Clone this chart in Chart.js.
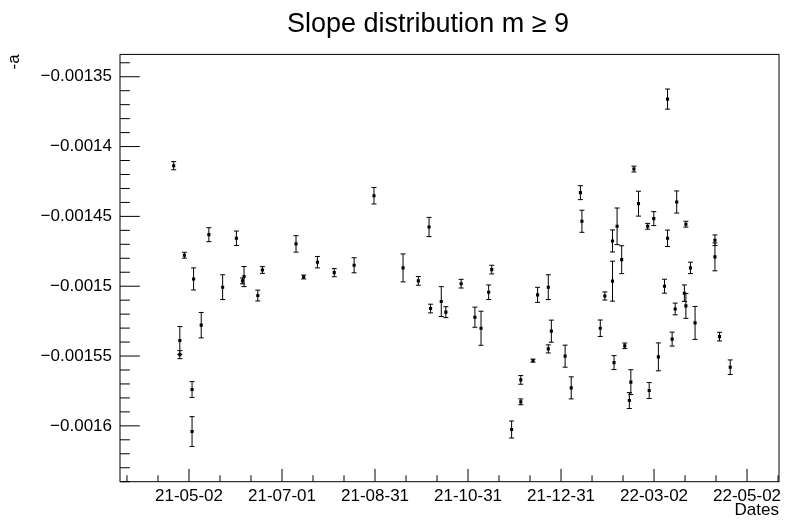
<!DOCTYPE html>
<html><head><meta charset="utf-8">
<script src="https://cdn.jsdelivr.net/npm/chart.js@4.4.1/dist/chart.umd.min.js"></script>
<style>html,body{margin:0;padding:0;background:#fff;}</style>
</head><body>
<canvas id="c" width="789" height="521"></canvas>
<script>
const dates = [
 "2021-04-22","2021-04-26","2021-04-26","2021-04-29","2021-05-04","2021-05-04","2021-05-05","2021-05-10","2021-05-15","2021-05-24",
 "2021-06-02","2021-06-06","2021-06-07","2021-06-16","2021-06-19","2021-07-11","2021-07-16","2021-07-25","2021-08-05","2021-08-18",
 "2021-08-31","2021-09-19","2021-09-29","2021-10-06","2021-10-07","2021-10-14","2021-10-17","2021-10-27","2021-11-05","2021-11-09",
 "2021-11-14","2021-11-16","2021-11-29","2021-12-05","2021-12-05","2021-12-13","2021-12-16","2021-12-23","2021-12-23","2021-12-25",
 "2022-01-03","2022-01-07","2022-01-13","2022-01-14","2022-01-26","2022-01-29","2022-02-03","2022-02-03","2022-02-04","2022-02-06",
 "2022-02-09","2022-02-11","2022-02-14","2022-02-15","2022-02-17","2022-02-20","2022-02-26","2022-02-27","2022-03-02","2022-03-05",
 "2022-03-09","2022-03-11","2022-03-11","2022-03-14","2022-03-16","2022-03-17","2022-03-22","2022-03-23","2022-03-23","2022-03-26",
 "2022-03-29","2022-04-11","2022-04-11","2022-04-14","2022-04-21"
];
const slopes = [
 -0.0014137,-0.0015389,-0.0015490,-0.0014778,-0.0015740,-0.0016041,-0.0014948,-0.0015279,-0.0014631,-0.0015007,
 -0.0014657,-0.0014962,-0.0014931,-0.0015067,-0.0014884,-0.0014697,-0.0014934,-0.0014828,-0.0014903,-0.0014850,
 -0.0014352,-0.0014869,-0.0014962,-0.0014576,-0.0015160,-0.0015110,-0.0015186,-0.0014982,-0.0015222,-0.0015301,
 -0.0015043,-0.0014881,-0.0016026,-0.0015671,-0.0015828,-0.0015533,-0.0015062,-0.0015007,-0.0015449,-0.0015322,
 -0.0015501,-0.0015728,-0.0014330,-0.0014535,-0.0015301,-0.0015070,-0.0014676,-0.0014964,-0.0015547,-0.0014571,
 -0.0014810,-0.0015427,-0.0015819,-0.0015687,-0.0014161,-0.0014409,-0.0014571,-0.0015747,-0.0014516,-0.0015506,
 -0.0015000,-0.0013660,-0.0014657,-0.0015379,-0.0015163,-0.0014397,-0.0015050,-0.0014556,-0.0015141,-0.0014869,
 -0.0015263,-0.0014671,-0.0014790,-0.0015361,-0.0015580
];
const errors = [
 2.9e-6,10.0e-6,2.9e-6,2.1e-6,5.7e-6,10.7e-6,7.9e-6,9.1e-6,5.0e-6,8.9e-6,
 5.2e-6,2.1e-6,7.2e-6,3.9e-6,2.4e-6,5.9e-6,1.4e-6,4.1e-6,2.9e-6,5.4e-6,
 5.9e-6,10.0e-6,3.1e-6,6.9e-6,3.1e-6,10.7e-6,3.9e-6,3.1e-6,7.2e-6,12.2e-6,
 5.2e-6,3.1e-6,6.1e-6,3.1e-6,2.1e-6,1.1e-6,5.4e-6,8.9e-6,2.9e-6,7.9e-6,
 7.9e-6,7.9e-6,5.0e-6,7.9e-6,5.9e-6,2.9e-6,7.9e-6,14.3e-6,5.0e-6,13.1e-6,
 10.0e-6,2.0e-6,5.7e-6,8.9e-6,2.1e-6,8.9e-6,2.1e-6,5.7e-6,5.0e-6,10.0e-6,
 5.0e-6,7.2e-6,5.9e-6,5.0e-6,4.2e-6,7.9e-6,5.9e-6,2.1e-6,8.9e-6,4.1e-6,
 11.8e-6,3.8e-6,10.0e-6,3.1e-6,5.2e-6
];
const xTickLabels = ["21-05-02","21-07-01","21-08-31","21-10-31","21-12-31","22-03-02","22-05-02"];
const yTickValues = [-0.0016,-0.00155,-0.0015,-0.00145,-0.0014,-0.00135];
const yTickLabels = ["\u22120.0016","\u22120.00155","\u22120.0015","\u22120.00145","\u22120.0014","\u22120.00135"];

const BASE = Date.UTC(2021,4,2);
const DAY = 86400000;
const dayOf = d => (Date.parse(d) - BASE) / DAY;
const MAJOR = 365/6;          // spacing of labelled time ticks (days)
const X_MIN = -45.13, X_MAX = 385.9;
const Y_MIN = -0.00164, Y_MAX = -0.001334;
const FONT = "'Liberation Sans', Arial, Helvetica, sans-serif";

const errorBars = {
  id: 'errorBars',
  afterDatasetsDraw(chart) {
    const {ctx, scales: {x, y}} = chart;
    ctx.save();
    ctx.strokeStyle = '#000';
    ctx.lineWidth = 1;
    ctx.beginPath();
    dates.forEach((d, i) => {
      const px = x.getPixelForValue(dayOf(d));
      const y1 = y.getPixelForValue(slopes[i] + errors[i]);
      const y2 = y.getPixelForValue(slopes[i] - errors[i]);
      ctx.moveTo(px, y1); ctx.lineTo(px, y2);
      ctx.moveTo(px - 2.5, y1); ctx.lineTo(px + 2.5, y1);
      ctx.moveTo(px - 2.5, y2); ctx.lineTo(px + 2.5, y2);
    });
    ctx.stroke();
    ctx.restore();
  }
};

const frameTicks = {
  id: 'frameTicks',
  afterLayout(chart) {
    // ROOT-style title: centred slightly left of the frame centre
    const t = chart.titleBlock;
    if (t) { t.left = 67; t.right = chart.width; }
  },
  afterDraw(chart) {
    const {ctx, chartArea: a, scales: {x, y}} = chart;
    ctx.save();
    ctx.strokeStyle = '#000';
    ctx.lineWidth = 1;
    ctx.strokeRect(a.left, a.top, a.right - a.left, a.bottom - a.top);
    ctx.beginPath();
    const yMajLen = 0.03 * (a.right - a.left), xMajLen = 0.03 * (a.bottom - a.top);
    for (let k = -164; k <= -134; k++) {
      const v = k * 1e-5;
      const py = y.getPixelForValue(v);
      const len = (k % 5 === 0) ? yMajLen : yMajLen / 2;
      ctx.moveTo(a.left, py); ctx.lineTo(a.left + len, py);
    }
    for (let k = -3; k <= 20; k++) {
      const v = k * MAJOR / 3;
      if (v < X_MIN || v > X_MAX) continue;
      const px = x.getPixelForValue(v);
      const len = (k % 3 === 0) ? xMajLen : xMajLen / 2;
      ctx.moveTo(px, a.bottom); ctx.lineTo(px, a.bottom - len);
    }
    ctx.stroke();
    ctx.restore();
  }
};

new Chart(document.getElementById('c'), {
  type: 'scatter',
  data: {
    datasets: [{
      data: dates.map((d, i) => ({x: dayOf(d), y: slopes[i]})),
      pointStyle: 'rect',
      pointRadius: 2.2,
      pointHoverRadius: 2.2,
      backgroundColor: '#000',
      borderWidth: 0
    }]
  },
  options: {
    responsive: false,
    animation: false,
    events: [],
    layout: {padding: {left: 0, right: 10, top: 0, bottom: 0}},
    plugins: {
      legend: {display: false},
      tooltip: {enabled: false},
      title: {
        display: true,
        text: 'Slope distribution m \u2265 9',
        color: '#000',
        font: {family: FONT, size: 27, weight: 'normal', lineHeight: 1.2},
        padding: {top: 8, bottom: 14}
      }
    },
    scales: {
      x: {
        type: 'linear', min: X_MIN, max: X_MAX,
        grid: {display: false, drawTicks: false},
        border: {display: false},
        afterBuildTicks: s => { s.ticks = xTickLabels.map((l, k) => ({value: k * MAJOR})); },
        ticks: {autoSkip: false, maxRotation: 0, minRotation: 0, padding: 4, color: '#000',
                font: {family: FONT, size: 17}, callback: (v, i) => xTickLabels[i]},
        title: {display: true, text: 'Dates', align: 'end', color: '#000',
                font: {family: FONT, size: 17}, padding: {top: 0, bottom: 0}},
        afterFit: s => { s.height = 39.3; s.paddingLeft = 0; s.paddingRight = 0; }
      },
      y: {
        type: 'linear', min: Y_MIN, max: Y_MAX,
        grid: {display: false, drawTicks: false},
        border: {display: false},
        afterBuildTicks: s => { s.ticks = yTickValues.map(v => ({value: v})); },
        ticks: {padding: 8, color: '#000', font: {family: FONT, size: 17},
                callback: (v, i) => yTickLabels[i]},
        title: {display: true, text: '-a', align: 'end', color: '#000',
                font: {family: FONT, size: 17}, padding: {top: 4, bottom: 0}},
        afterFit: s => { s.width = 120; s.paddingTop = 0; s.paddingBottom = 0; }
      }
    }
  },
  plugins: [errorBars, frameTicks]
});
</script>
</body></html>
